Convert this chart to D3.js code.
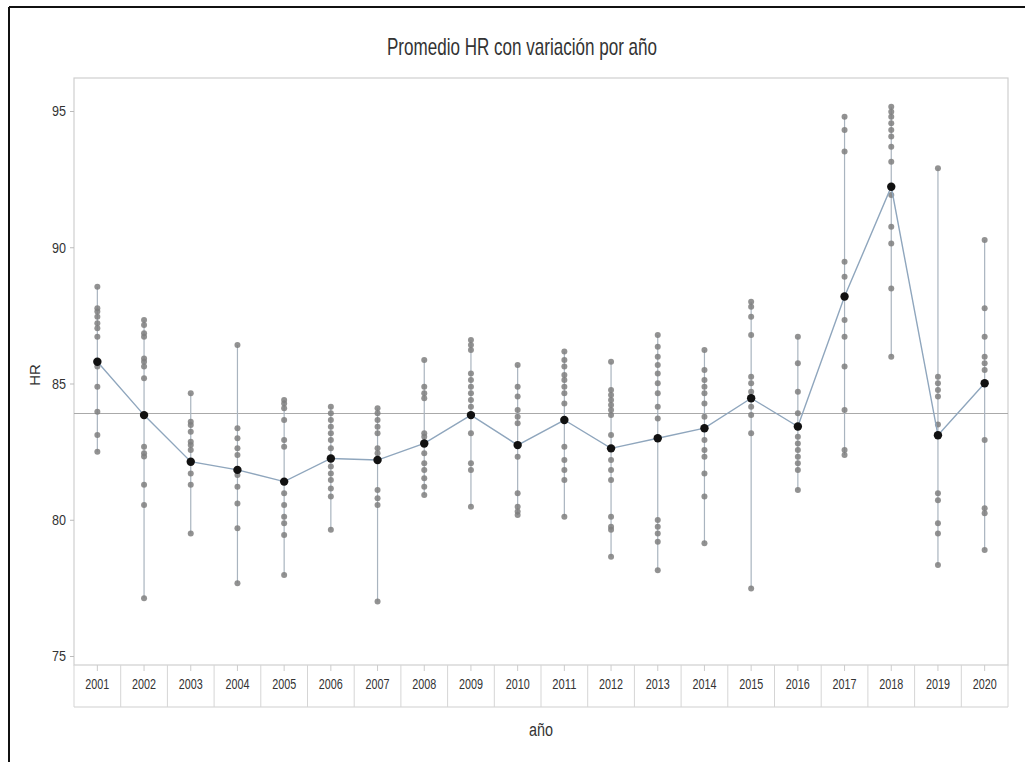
<!DOCTYPE html>
<html>
<head>
<meta charset="utf-8">
<script src="https://cdn.jsdelivr.net/npm/d3@7"></script>
<style>
  html, body { margin: 0; padding: 0; background: #fff; }
  svg { display: block; }
  text { font-family: "Liberation Sans Narrow", "Liberation Sans", "DejaVu Sans Condensed", sans-serif; fill: #333; }
</style>
</head>
<body>
<script>
const title = "Promedio HR con variación por año";
const xLabel = "año";
const yLabel = "HR";
const years = ["2001","2002","2003","2004","2005","2006","2007","2008","2009","2010",
               "2011","2012","2013","2014","2015","2016","2017","2018","2019","2020"];
const yTicks = [75, 80, 85, 90, 95];
const grandMean = 83.9;

// mean per year (black dots)
const means = [85.8, 83.84, 82.13, 81.83, 81.4, 82.25, 82.19, 82.8, 83.84, 82.74,
               83.66, 82.62, 82.99, 83.36, 84.46, 83.42, 88.19, 92.22, 83.1, 85.01];

// individual observations per year
const obs2001 = [88.55, 87.76, 87.64, 87.45, 87.21, 87.03, 86.72, 85.62, 84.88, 83.96, 83.11, 82.5];
const obs2002 = [87.33, 87.15, 86.84, 86.72, 85.92, 85.8, 85.62, 85.19, 82.68, 82.44, 82.32, 81.28, 80.54, 77.12];
const obs2003 = [84.64, 83.6, 83.48, 83.23, 82.86, 82.74, 82.56, 81.7, 81.28, 79.5];
const obs2004 = [86.41, 83.36, 82.99, 82.62, 82.38, 81.64, 81.21, 80.6, 79.69, 77.67];
const obs2005 = [84.39, 84.27, 84.09, 83.66, 82.93, 82.68, 80.97, 80.54, 80.11, 79.87, 79.44, 77.97];
const obs2006 = [84.15, 83.91, 83.66, 83.41, 83.17, 82.93, 82.62, 81.95, 81.7, 81.46, 81.15, 80.85, 79.63];
const obs2007 = [84.09, 83.91, 83.66, 83.41, 83.17, 82.62, 82.44, 81.09, 80.79, 80.54, 77.0];
const obs2008 = [85.86, 84.88, 84.64, 84.46, 83.17, 83.05, 82.44, 82.07, 81.83, 81.52, 81.21, 80.91];
const obs2009 = [86.6, 86.41, 86.23, 85.37, 85.13, 84.88, 84.64, 84.39, 84.15, 83.17, 82.07, 81.83, 80.48];
const obs2010 = [85.68, 84.88, 84.52, 84.03, 83.78, 83.54, 82.31, 80.97, 80.48, 80.3, 80.17];
const obs2011 = [86.17, 85.86, 85.62, 85.31, 85.13, 84.88, 84.64, 84.27, 82.68, 82.19, 81.83, 81.46, 80.11];
const obs2012 = [85.8, 84.76, 84.58, 84.39, 84.21, 84.03, 83.84, 83.11, 82.19, 81.83, 81.46, 80.11, 79.74, 79.63, 78.64];
const obs2013 = [86.78, 86.35, 85.98, 85.68, 85.37, 85.01, 84.64, 84.15, 83.72, 79.99, 79.74, 79.5, 79.19, 78.15];
const obs2014 = [86.23, 85.5, 85.13, 84.88, 84.64, 84.27, 83.78, 82.93, 82.56, 82.31, 81.7, 80.85, 79.14];
const obs2015 = [88.0, 87.82, 87.45, 86.78, 85.25, 85.01, 84.7, 84.15, 83.84, 83.17, 77.48];
const obs2016 = [86.72, 85.74, 84.7, 83.91, 83.05, 82.8, 82.56, 82.31, 82.07, 81.83, 81.09];
const obs2017 = [94.79, 94.3, 93.51, 89.47, 88.92, 87.33, 86.72, 85.62, 84.03, 82.56, 82.38];
const obs2018 = [95.16, 94.97, 94.79, 94.55, 94.3, 94.06, 93.69, 93.14, 91.92, 90.75, 90.14, 88.49, 85.98];
const obs2019 = [92.9, 85.25, 85.01, 84.76, 84.52, 83.5, 80.97, 80.72, 79.87, 79.5, 78.34];
const obs2020 = [90.27, 87.76, 86.72, 85.98, 85.74, 85.5, 82.93, 80.42, 80.24, 78.89];

const observations = [obs2001, obs2002, obs2003, obs2004, obs2005, obs2006, obs2007, obs2008, obs2009, obs2010,
                      obs2011, obs2012, obs2013, obs2014, obs2015, obs2016, obs2017, obs2018, obs2019, obs2020];

const W = 1025, H = 762;
const plot = { left: 74, right: 1008, top: 78, bottom: 665 };

const svg = d3.select("body").append("svg").attr("width", W).attr("height", H);

// outer frame lines (left and top)
svg.append("line").attr("x1", 9).attr("x2", W).attr("y1", 7).attr("y2", 7)
  .attr("stroke", "#111").attr("stroke-width", 2);
svg.append("line").attr("x1", 9).attr("x2", 9).attr("y1", 7).attr("y2", H)
  .attr("stroke", "#111").attr("stroke-width", 2);

const x = d3.scaleBand().domain(years).range([plot.left, plot.right]).paddingInner(0).paddingOuter(0);
// calibrate: 95 -> 111, 75 -> 656
const y = d3.scaleLinear()
  .domain([75 - (665 - 656) / 27.25, 95 + (111 - 78) / 27.25])
  .range([plot.bottom, plot.top]);

// plot frame
svg.append("rect").attr("x", plot.left).attr("y", plot.top)
  .attr("width", plot.right - plot.left).attr("height", plot.bottom - plot.top)
  .attr("fill", "none").attr("stroke", "#cfcfcf").attr("stroke-width", 1.2);

// title
svg.append("text").attr("x", 522).attr("y", 55).attr("text-anchor", "middle")
  .attr("font-size", 24).attr("textLength", 270).attr("lengthAdjust", "spacingAndGlyphs")
  .attr("fill", "#3a3a3a")
  .text(title);

// y axis
const yAxis = d3.axisLeft(y).tickValues(yTicks).tickSize(4).tickPadding(4);
const gy = svg.append("g").attr("transform", `translate(${plot.left},0)`).call(yAxis);
gy.select(".domain").remove();
gy.selectAll(".tick line").attr("stroke", "#bbb");
gy.selectAll(".tick text").attr("font-size", 15).attr("fill", "#333")
  .attr("textLength", 14).attr("lengthAdjust", "spacingAndGlyphs")
  .style("font-family", "'Liberation Sans', sans-serif");

svg.append("text").attr("transform", "translate(40,375) rotate(-90)")
  .attr("text-anchor", "middle").attr("font-size", 15).text(yLabel);

// x axis boxes
const boxTop = plot.bottom, boxBottom = 707;
const gx = svg.append("g");
gx.append("line").attr("x1", plot.left).attr("x2", plot.right).attr("y1", boxBottom).attr("y2", boxBottom)
  .attr("stroke", "#cfcfcf").attr("stroke-width", 1.2);
const edges = years.map(d => x(d)).concat([plot.right]);
gx.selectAll("line.sep").data(edges).join("line").attr("class", "sep")
  .attr("x1", d => d).attr("x2", d => d).attr("y1", boxTop).attr("y2", boxBottom)
  .attr("stroke", "#d5d5d5").attr("stroke-width", 1);
const xAxis = d3.axisBottom(x).tickSize(6).tickPadding(8);
const gxa = svg.append("g").attr("transform", `translate(0,${boxTop})`).call(xAxis);
gxa.select(".domain").remove();
gxa.selectAll(".tick line").attr("stroke", "#ccc");
gxa.selectAll(".tick text").attr("font-size", 14).attr("fill", "#333")
  .attr("textLength", 24).attr("lengthAdjust", "spacingAndGlyphs")
  .style("font-family", "'Liberation Sans', sans-serif");

svg.append("text").attr("x", 541).attr("y", 736).attr("text-anchor", "middle")
  .attr("font-size", 18).attr("textLength", 24).attr("lengthAdjust", "spacingAndGlyphs")
  .text(xLabel);

// reference line (grand mean)
svg.append("line").attr("x1", plot.left).attr("x2", plot.right)
  .attr("y1", y(grandMean)).attr("y2", y(grandMean))
  .attr("stroke", "#aaa").attr("stroke-width", 1.2);

const cx = d => x(d) + x.bandwidth() / 2;

// vertical range lines
const data = years.map((yr, i) => ({ yr, obs: observations[i], mean: means[i] }));
svg.append("g").selectAll("line").data(data).join("line")
  .attr("x1", d => cx(d.yr)).attr("x2", d => cx(d.yr))
  .attr("y1", d => y(d3.max(d.obs))).attr("y2", d => y(d3.min(d.obs)))
  .attr("stroke", "#a9b4bf").attr("stroke-width", 1.2);

// individual points
const pts = data.flatMap(d => d.obs.map(v => ({ yr: d.yr, v })));
svg.append("g").selectAll("circle").data(pts).join("circle")
  .attr("cx", d => cx(d.yr)).attr("cy", d => y(d.v)).attr("r", 3)
  .attr("fill", "#7f7f7f").attr("fill-opacity", 0.85);

// mean connect line
const line = d3.line().x(d => cx(d.yr)).y(d => y(d.mean));
svg.append("path").datum(data).attr("d", line)
  .attr("fill", "none").attr("stroke", "#8fa6bd").attr("stroke-width", 1.4);

// mean points
svg.append("g").selectAll("circle").data(data).join("circle")
  .attr("cx", d => cx(d.yr)).attr("cy", d => y(d.mean)).attr("r", 4.2)
  .attr("fill", "#111");
</script>
</body>
</html>
